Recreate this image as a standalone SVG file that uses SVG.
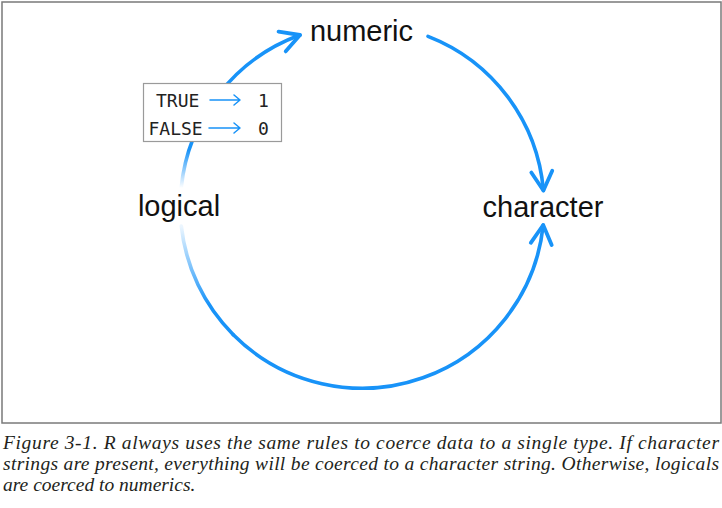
<svg xmlns="http://www.w3.org/2000/svg" width="722" height="508" viewBox="0 0 722 508">
<style>
.lbl{font-family:"Liberation Sans",Arial,sans-serif;font-size:29px;fill:#111;text-anchor:middle}
.mono{font-family:"DejaVu Sans Mono","Liberation Mono",monospace;font-size:18px;fill:#222}
.cap{font-family:"Liberation Serif","Times New Roman",serif;font-style:italic;font-size:19.5px;fill:#231f20}
.arc{fill:none;stroke:#1893f8;stroke-width:3.6;stroke-linecap:round}
.small{fill:none;stroke:#1893f8;stroke-width:1.5;stroke-linecap:round;stroke-linejoin:round}
</style>
<defs>
<marker id="head" markerUnits="userSpaceOnUse" markerWidth="40" markerHeight="40" viewBox="-30 -20 40 40" refX="0" refY="0" orient="auto" overflow="visible">
<path d="M-19,-10.5 L0,0 L-19,10.5" fill="none" stroke="#1893f8" stroke-width="3.8" stroke-linecap="round" stroke-linejoin="round"/>
</marker>
<linearGradient id="fadeTop" gradientUnits="userSpaceOnUse" x1="0" y1="188" x2="0" y2="150">
<stop offset="0" stop-color="#1893f8" stop-opacity="0"/>
<stop offset="1" stop-color="#1893f8" stop-opacity="1"/>
</linearGradient>
<linearGradient id="fadeBot" gradientUnits="userSpaceOnUse" x1="0" y1="226" x2="0" y2="305">
<stop offset="0" stop-color="#1893f8" stop-opacity="0.08"/>
<stop offset="1" stop-color="#1893f8" stop-opacity="1"/>
</linearGradient>
</defs>
<rect x="2" y="2" width="719" height="421" fill="#fff" stroke="#7a7a7a" stroke-width="1.5"/>
<g id="connectors">
<path class="arc" style="stroke:url(#fadeTop)" d="M181.2,188 A182,182 0 0 1 300,35" marker-end="url(#head)"/>
<path class="arc" d="M428,36.4 A182,182 0 0 1 543.4,190.5" marker-end="url(#head)"/>
<path class="arc" style="stroke:url(#fadeBot)" d="M181.3,226 A182,182 0 0 0 233.3,334.7"/>
<path class="arc" d="M233.3,334.7 A182,182 0 0 0 543.2,225" marker-end="url(#head)"/>
</g>
<g id="node-numeric"><text class="lbl" x="361.5" y="40.5">numeric</text></g>
<g id="node-logical"><text class="lbl" x="179" y="216">logical</text></g>
<g id="node-character"><text class="lbl" x="543" y="216.5">character</text></g>
<g id="legend">
<rect x="143.5" y="83.5" width="138" height="58" fill="#fff" stroke="#9a9a9a" stroke-width="1.2"/>
<text class="mono" x="156" y="106.5">TRUE</text>
<text class="mono" x="148.5" y="134.5">FALSE</text>
<text class="mono" x="258" y="106.5">1</text>
<text class="mono" x="258" y="134.5">0</text>
<path class="small" d="M210,100 H240 M234,95 L240,100 L234,105"/>
<path class="small" d="M209,128 H240 M234,123 L240,128 L234,133"/>
</g>
<g id="caption">
<text class="cap" x="3" y="449" textLength="716" lengthAdjust="spacing">Figure 3-1. R always uses the same rules to coerce data to a single type. If character</text>
<text class="cap" x="3" y="470" textLength="716" lengthAdjust="spacing">strings are present, everything will be coerced to a character string. Otherwise, logicals</text>
<text class="cap" x="3" y="491">are coerced to numerics.</text>
</g>
</svg>
